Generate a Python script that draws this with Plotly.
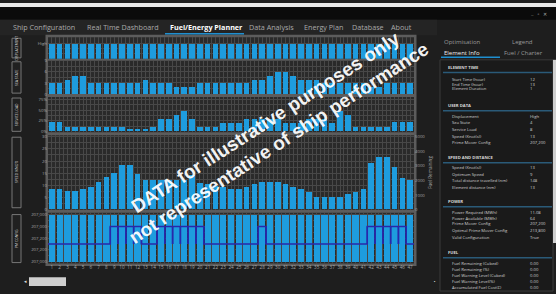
import plotly.graph_objects as go

W, H = 556, 294
def X(px): return px / W
def Y(py): return 1 - py / H

# ---------------- data ----------------
bars = list(range(1, 48))
bar_labels = [str(i) for i in bars]
displacement = [1] * 47
sea_state = [3, 3, 4, 5, 5, 3, 3, 3, 3, 3, 3, 3, 4, 3, 3, 3, 2, 2, 2, 3, 3, 3, 3, 3,
             3, 3, 4, 4, 5, 6, 6, 5, 4, 4, 4, 3, 3, 3, 3, 3, 3, 2, 2, 3, 3, 3, 3]
service_load = [23, 23, 11, 11, 11, 11, 11, 11, 11, 11, 6, 6, 6, 11, 28, 28, 38, 47, 28, 11, 11, 11,
                20, 20, 20, 28, 28, 28, 30, 28, 20, 20, 20, 28, 28, 28, 20, 47, 38, 11, 11, 11, 11, 11,
                23, 23, 23]
speed = [8.6, 8.6, 7.4, 7.4, 8.6, 9.4, 11.3, 13.2, 15.1, 18.2, 18.2, 14.5, 12, 12, 12, 12, 12, 12,
         14, 11, 10.6, 9.8, 9.2, 8.3, 8.3, 9.4, 10.3, 11.2, 11.2, 11.2, 10.3, 9.4, 8.3, 7.2, 5.3,
         5.3, 5.3, 5.3, 6.3, 7.2, 8.3, 19.1, 21.7, 21.7, 17.3, 12.9, 12]
pm_config_full = [4] * 47
pm_level = [1.5, 1.5, 1.5, 1.5, 1.5, 1.5, 1.5, 1.5, 3, 3, 3, 3, 1.5, 1.5, 3, 3, 3, 3, 3, 3,
            1.5, 1.5, 1.5, 1.5, 1.5, 1.5, 1.5, 3, 1.5, 1.5, 1.5, 1.5, 1.5, 1.5, 1.5, 1.5, 1.5,
            1.5, 1.5, 1.5, 1.5, 3, 3, 3, 3, 3, 1.5]
pm_tick_text = ["207,000", "207,200", "207,200", "207,000", "207,000"]
sea_ticks = [0, 3, 6, 9]
load_ticks = [0, 25, 50, 75]
load_tick_text = ["0%", "25%", "50%", "75%"]
speed_ticks = [0, 5, 10, 15, 20, 25, 30]
fuel_ticks = [0, 1000, 2000, 3000, 4000, 5000]

menu_items = ["Ship Configuration", "Real Time Dashboard", "Fuel/Energy Planner",
              "Data Analysis", "Energy Plan", "Database", "About"]
menu_x = [11, 85, 168, 247, 302, 350, 389]
panel_names = ["DISPLACEMENT", "SEA STATE", "SERVICE LOAD", "SPEED (KNOT)", "PM CONFIG"]

info_sections = [
    ("ELEMENT TIME", 66, [("Start Time (hour)", "12", 78), ("End Time (hour)", "13", 83),
                          ("Element Duration", "1", 87.5)]),
    ("USER DATA", 105, [("Displacement", "High", 116), ("Sea State", "4", 122),
                        ("Service Load", "8", 129), ("Speed (Knot(s))", "13", 136),
                        ("Prime Mover Config", "207,200", 142)]),
    ("SPEED AND DISTANCE", 158, [("Speed (Knot(s))", "13", 168), ("Optimum Speed", "9", 175),
                                 ("Total distance travelled (nm)", "148", 181),
                                 ("Element distance (nm)", "13", 188)]),
    ("POWER", 203, [("Power Required (MWh)", "11.08", 214), ("Power Available (MWh)", "64", 219.5),
                    ("Prime Mover Config", "207,200", 225),
                    ("Optimal Prime Mover Config", "213,800", 232.5),
                    ("Valid Configuration", "True", 239.5)]),
    ("FUEL", 255, [("Fuel Remaining (Cubed)", "0.00", 266), ("Fuel Remaining (%)", "0.00", 272),
                   ("Fuel Warning Level (Cubed)", "0.00", 278), ("Fuel Warning Level(%)", "0.00", 284),
                   ("Accumulated Fuel Cost(£)", "0.00", 290)]),
]

# ---------------- styles ----------------
BAR = "rgb(30,156,222)"
GRID = "#484848"
PANEL = "#2a2a2a"
FRAME = "#5c5c5c"
TICKC = "#a8a8a8"
FONT = "Open Sans"

panels = [(35, 57), (59, 93), (96, 132), (135, 211), (214, 266)]
x0, x1 = 48, 414

fig = go.Figure()

def add_bar(y, n, width=0.72):
    fig.add_trace(go.Bar(x=bars, y=y, marker=dict(color=BAR, line=dict(width=0)), width=width,
                         xaxis="x" if n == 1 else f"x{n}", yaxis="y" if n == 1 else f"y{n}",
                         showlegend=False, hoverinfo="skip"))

add_bar(displacement, 1)
add_bar(sea_state, 2)
add_bar(service_load, 3)
add_bar(speed, 4)
add_bar(pm_config_full, 5, width=0.8)

# PM config step line
sx, sy = [], []
for i, v in enumerate(pm_level):
    sx += [bars[i] - 0.5, bars[i] + 0.5]
    sy += [v, v]
fig.add_trace(go.Scatter(x=sx, y=sy, mode="lines", line=dict(color="rgb(40,40,170)", width=1.5),
                         xaxis="x5", yaxis="y5", showlegend=False, hoverinfo="skip"))
vx, vy = [], []
for i, v in enumerate(pm_level):
    if v > 2:
        for e in (bars[i] - 0.5, bars[i] + 0.5):
            vx += [e, e, None]
            vy += [1.5, 3, None]
fig.add_trace(go.Scatter(x=vx, y=vy, mode="lines", line=dict(color="rgb(40,40,170)", width=1.5),
                         xaxis="x5", yaxis="y5", showlegend=False, hoverinfo="skip"))

# fuel remaining (right axis) placeholder trace for axis display
fig.add_trace(go.Scatter(x=[None], y=[None], xaxis="x4", yaxis="y6", showlegend=False))

lay = dict(width=W, height=H, margin=dict(l=0, r=0, t=0, b=0), paper_bgcolor="#1e1e1e",
           plot_bgcolor="rgba(0,0,0,0)", bargap=0, font=dict(family=FONT, color=TICKC, size=5))

TF = dict(size=4.3, color=TICKC)
for n in range(1, 6):
    xa = "xaxis" if n == 1 else f"xaxis{n}"
    ya = "yaxis" if n == 1 else f"yaxis{n}"
    top, bot = panels[n - 1]
    lay[xa] = dict(domain=[X(x0), X(x1)], range=[0.5, 47.5], anchor="y" if n == 1 else f"y{n}",
                   tickvals=bars, ticktext=bar_labels, showticklabels=(n == 5),
                   showgrid=True, gridcolor=GRID, gridwidth=1, zeroline=False, ticks="",
                   tickfont=dict(size=4.6, color=TICKC),
                   minor=dict(tick0=0.5, dtick=1, showgrid=True, gridcolor=GRID, gridwidth=1))
    lay[ya] = dict(domain=[Y(bot), Y(top)], anchor="x" if n == 1 else f"x{n}", zeroline=False,
                   showgrid=True, gridcolor=GRID, gridwidth=1, ticks="", tickfont=TF)

lay["yaxis"].update(range=[0, 1.45], tickvals=[1], ticktext=["High"],
                    minor=dict(dtick=0.35, showgrid=True, gridcolor=GRID))
lay["yaxis2"].update(range=[0, 9], tickvals=sea_ticks,
                     minor=dict(dtick=1.5, showgrid=True, gridcolor=GRID))
lay["yaxis3"].update(range=[-2.3, 81], tickvals=load_ticks, ticktext=load_tick_text,
                     minor=dict(tick0=0, dtick=12.5, showgrid=True, gridcolor=GRID))
lay["yaxis4"].update(range=[0, 30.6], tickvals=speed_ticks,
                     minor=dict(dtick=2.5, showgrid=True, gridcolor=GRID))
lay["yaxis5"].update(range=[-0.2, 4.2], tickvals=[0, 1, 2, 3, 4], ticktext=pm_tick_text,
                     minor=dict(dtick=0.5, showgrid=True, gridcolor=GRID))
lay["yaxis6"] = dict(overlaying="y4", side="right", anchor="x4", range=[0, 5100], tickvals=fuel_ticks,
                     showgrid=False, zeroline=False, ticks="", tickfont=TF,
                     title=dict(text="Fuel Remaining", font=dict(size=4.6, color=TICKC), standoff=4))
fig.update_layout(**lay)

shapes = []
def rect(xa, ya, xb, yb, fill, line=None, lw=0, layer="below"):
    shapes.append(dict(type="rect", xref="paper", yref="paper", x0=X(xa), x1=X(xb), y0=Y(yb), y1=Y(ya),
                       fillcolor=fill, line=dict(color=line or fill, width=lw), layer=layer))

# window chrome
rect(0, 0, 556, 4, "#e8e8e8")
rect(0, 4, 556, 17, "#0b0b0b")
rect(0, 17, 437, 33, "#242424")
# chart frame + panels
rect(45.5, 32.5, 416.5, 268.5, FRAME)
for top, bot in panels:
    rect(x0, top, x1, bot, PANEL)
# left label boxes
box_y = [(36, 56), (60, 92), (97, 131), (137, 209), (216, 265)]
for (a, b) in box_y:
    rect(12, a, 21, b, "#202020", "#777777", 1)
# right info panel
rect(440, 58, 553, 294, "#1a1a1a", "#3a3a3a", 1)
rect(553, 58, 556, 245, "#cfcfcf")
# scrollbar thumb
rect(29, 280, 66, 289, "#cfcfcf")
# menu underline
shapes.append(dict(type="line", xref="paper", yref="paper", x0=X(165), x1=X(244), y0=Y(31.5), y1=Y(31.5),
                   line=dict(color="#1f8fd0", width=1.5)))
# element info underline
shapes.append(dict(type="line", xref="paper", yref="paper", x0=X(441), x1=X(500), y0=Y(55.5), y1=Y(55.5),
                   line=dict(color="#1f8fd0", width=1.5)))

ann = []
def txt(s, x, y, size=5, color="#d0d0d0", xanchor="left", bold=False, angle=0, family=FONT):
    ann.append(dict(text=("<b>%s</b>" % s) if bold else s, x=X(x), y=Y(y), xref="paper", yref="paper",
                    xanchor=xanchor, yanchor="middle", showarrow=False, textangle=angle,
                    font=dict(size=size, color=color, family=family)))

for s, x in zip(menu_items, menu_x):
    active = s == "Fuel/Energy Planner"
    txt(s, x, 25, size=7.2, color="#ffffff" if active else "#a9a9a9", bold=active)
txt("‒   ▫   ✕", 528, 11, size=5, color="#aaaaaa")

for name, (a, b) in zip(panel_names, box_y):
    txt(name, 16.5, (a + b) / 2, size=3.4, color="#dddddd", xanchor="center", angle=-90)

txt("Optimisation", 442, 40, size=6, color="#9a9a9a")
txt("Legend", 510, 40, size=6, color="#9a9a9a")
txt("Element Info", 442, 51, size=6, color="#eeeeee")
txt("Fuel / Charter", 502, 51, size=6, color="#9a9a9a")

for head, hy, rows in info_sections:
    txt(head, 446, hy, size=4.2, color="#d8d8d8", bold=True)
    shapes.append(dict(type="line", xref="paper", yref="paper", x0=X(443), x1=X(552), y0=Y(hy + 5),
                       y1=Y(hy + 5), line=dict(color="#2a5a78", width=1.5)))
    for lab, val, ry in rows:
        txt(lab, 450, ry, size=4.2, color="#cfcfcf")
        txt(val, 528, ry, size=4.2, color="#cfcfcf")

txt("◂", 25, 284, size=5, color="#dddddd", xanchor="center")
txt("▪", 435, 284, size=4, color="#dddddd", xanchor="center")

# watermark
ann.append(dict(text="<b>DATA for illustrative purposes only</b><br><b>not representative of ship performance</b>",
                x=X(272), y=Y(133), xref="paper", yref="paper", xanchor="center", yanchor="middle",
                showarrow=False, textangle=-33, align="center",
                font=dict(size=19, color="rgba(255,255,255,0.96)", family="Liberation Sans")))

fig.update_layout(shapes=shapes, annotations=ann)
fig.write_html("out.html", config={"displayModeBar": False},
               post_script="document.body.style.margin='0';")
